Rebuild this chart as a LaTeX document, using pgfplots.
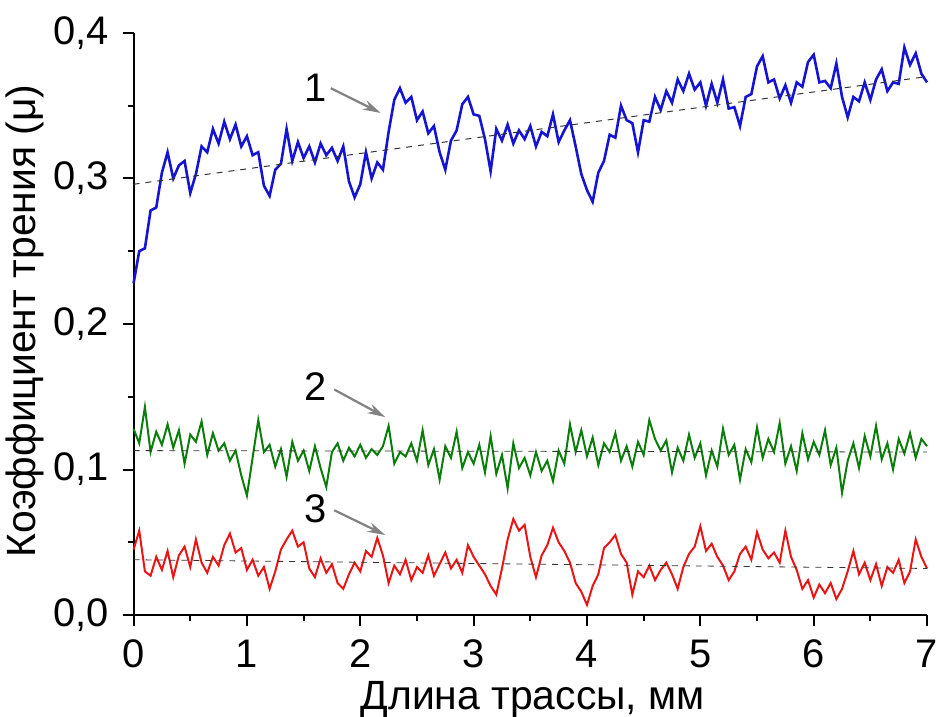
\documentclass[border=0pt]{standalone}
\usepackage{fontspec}
\setmainfont{Liberation Sans}
\usepackage{pgfplots}
\pgfplotsset{compat=1.18}
\usetikzlibrary{arrows.meta}

\definecolor{c1}{RGB}{20,20,210}
\definecolor{c2}{RGB}{10,125,10}
\definecolor{c3}{RGB}{235,20,20}
\definecolor{arr}{RGB}{130,130,130}

\begin{document}
\fontsize{20}{24}\selectfont
\begin{tikzpicture}
\begin{axis}[
    scale only axis,
    width=398pt, height=292pt,
    xmin=0, xmax=7, ymin=0, ymax=0.4,
    axis x line*=bottom, axis y line*=left,
    axis line style={line width=1pt},
    every tick/.style={black, line width=1pt},
    tick align=outside,
    major tick length=5.5pt, minor tick length=3pt,
    xtick={0,1,...,7}, ytick={0,0.1,0.2,0.3,0.4},
    minor x tick num=1, minor y tick num=1,
    /pgf/number format/assume math mode=true,
    yticklabel style={/pgf/number format/.cd, fixed, fixed zerofill, precision=1, use comma},
    xlabel={Длина трассы, мм},
    ylabel={Коэффициент трения (μ)},
    xlabel style={at={(axis description cs:0.503,-0.145)}, anchor=center, font=\fontsize{20.5}{24}\selectfont},
    ylabel style={at={(axis description cs:-0.137,0.505)}, anchor=center, font=\fontsize{20.5}{24}\selectfont},
    clip=false,
]
\coordinate (sw) at (rel axis cs:0,0);
\coordinate (ne) at (rel axis cs:1,1);

% curve 1
\addplot[c1, line width=1.3pt] coordinates {
(0.00,0.228) (0.05,0.250) (0.10,0.252) (0.15,0.278) (0.20,0.280) (0.25,0.304) (0.30,0.318) (0.35,0.300)
(0.40,0.309) (0.45,0.312) (0.50,0.290) (0.55,0.303) (0.60,0.322) (0.65,0.318) (0.70,0.334) (0.75,0.324)
(0.80,0.339) (0.85,0.327) (0.90,0.337) (0.95,0.322) (1.00,0.329) (1.05,0.316) (1.10,0.318) (1.15,0.295)
(1.20,0.288) (1.25,0.306) (1.30,0.310) (1.35,0.334) (1.40,0.312) (1.45,0.325) (1.50,0.314) (1.55,0.322)
(1.60,0.311) (1.65,0.324) (1.70,0.316) (1.75,0.321) (1.80,0.312) (1.85,0.322) (1.90,0.298) (1.95,0.287)
(2.00,0.296) (2.05,0.318) (2.10,0.300) (2.15,0.311) (2.20,0.306) (2.25,0.332) (2.30,0.354) (2.35,0.362)
(2.40,0.352) (2.45,0.356) (2.50,0.340) (2.55,0.346) (2.60,0.331) (2.65,0.336) (2.70,0.318) (2.75,0.306)
(2.80,0.326) (2.85,0.333) (2.90,0.351) (2.95,0.356) (3.00,0.344) (3.05,0.343) (3.10,0.327) (3.15,0.305)
(3.20,0.334) (3.25,0.326) (3.30,0.337) (3.35,0.324) (3.40,0.333) (3.45,0.327) (3.50,0.336) (3.55,0.322)
(3.60,0.332) (3.65,0.329) (3.70,0.344) (3.75,0.325) (3.80,0.333) (3.85,0.340) (3.90,0.322) (3.95,0.303)
(4.00,0.292) (4.05,0.284) (4.10,0.304) (4.15,0.312) (4.20,0.330) (4.25,0.328) (4.30,0.350) (4.35,0.340)
(4.40,0.338) (4.45,0.318) (4.50,0.340) (4.55,0.339) (4.60,0.356) (4.65,0.347) (4.70,0.360) (4.75,0.352)
(4.80,0.368) (4.85,0.360) (4.90,0.372) (4.95,0.361) (5.00,0.366) (5.05,0.350) (5.10,0.365) (5.15,0.352)
(5.20,0.368) (5.25,0.348) (5.30,0.349) (5.35,0.336) (5.40,0.356) (5.45,0.358) (5.50,0.377) (5.55,0.384)
(5.60,0.366) (5.65,0.368) (5.70,0.355) (5.75,0.364) (5.80,0.352) (5.85,0.366) (5.90,0.363) (5.95,0.380)
(6.00,0.385) (6.05,0.366) (6.10,0.367) (6.15,0.362) (6.20,0.379) (6.25,0.356) (6.30,0.342) (6.35,0.356)
(6.40,0.353) (6.45,0.366) (6.50,0.354) (6.55,0.368) (6.60,0.375) (6.65,0.360) (6.70,0.366) (6.75,0.365)
(6.80,0.390) (6.85,0.378) (6.90,0.386) (6.95,0.372) (7.00,0.366)
};

% curve 2
\addplot[c2, line width=1pt] coordinates {
(0.00,0.128) (0.05,0.118) (0.10,0.143) (0.15,0.112) (0.20,0.126) (0.25,0.117) (0.30,0.131) (0.35,0.115)
(0.40,0.127) (0.45,0.104) (0.50,0.124) (0.55,0.119) (0.60,0.133) (0.65,0.110) (0.70,0.125) (0.75,0.113)
(0.80,0.118) (0.85,0.106) (0.90,0.113) (0.95,0.096) (1.00,0.082) (1.05,0.108) (1.10,0.134) (1.15,0.112)
(1.20,0.117) (1.25,0.102) (1.30,0.114) (1.35,0.095) (1.40,0.119) (1.45,0.106) (1.50,0.113) (1.55,0.099)
(1.60,0.116) (1.65,0.101) (1.70,0.088) (1.75,0.112) (1.80,0.118) (1.85,0.106) (1.90,0.115) (1.95,0.109)
(2.00,0.117) (2.05,0.108) (2.10,0.114) (2.15,0.110) (2.20,0.116) (2.25,0.130) (2.30,0.104) (2.35,0.112)
(2.40,0.109) (2.45,0.118) (2.50,0.106) (2.55,0.127) (2.60,0.103) (2.65,0.114) (2.70,0.093) (2.75,0.116)
(2.80,0.108) (2.85,0.126) (2.90,0.101) (2.95,0.112) (3.00,0.104) (3.05,0.117) (3.10,0.098) (3.15,0.123)
(3.20,0.097) (3.25,0.110) (3.30,0.087) (3.35,0.118) (3.40,0.101) (3.45,0.108) (3.50,0.096) (3.55,0.112)
(3.60,0.099) (3.65,0.106) (3.70,0.092) (3.75,0.113) (3.80,0.104) (3.85,0.131) (3.90,0.112) (3.95,0.127)
(4.00,0.109) (4.05,0.122) (4.10,0.103) (4.15,0.118) (4.20,0.112) (4.25,0.125) (4.30,0.106) (4.35,0.116)
(4.40,0.102) (4.45,0.119) (4.50,0.110) (4.55,0.134) (4.60,0.121) (4.65,0.113) (4.70,0.120) (4.75,0.098)
(4.80,0.115) (4.85,0.106) (4.90,0.124) (4.95,0.108) (5.00,0.118) (5.05,0.096) (5.10,0.113) (5.15,0.102)
(5.20,0.128) (5.25,0.110) (5.30,0.117) (5.35,0.093) (5.40,0.114) (5.45,0.105) (5.50,0.129) (5.55,0.108)
(5.60,0.121) (5.65,0.112) (5.70,0.132) (5.75,0.104) (5.80,0.116) (5.85,0.099) (5.90,0.125) (5.95,0.107)
(6.00,0.119) (6.05,0.110) (6.10,0.127) (6.15,0.103) (6.20,0.115) (6.25,0.084) (6.30,0.106) (6.35,0.118)
(6.40,0.101) (6.45,0.123) (6.50,0.109) (6.55,0.130) (6.60,0.107) (6.65,0.118) (6.70,0.100) (6.75,0.121)
(6.80,0.111) (6.85,0.125) (6.90,0.108) (6.95,0.121) (7.00,0.116)
};

% curve 3
\addplot[c3, line width=1pt] coordinates {
(0.00,0.045) (0.05,0.058) (0.10,0.030) (0.15,0.027) (0.20,0.040) (0.25,0.031) (0.30,0.044) (0.35,0.026)
(0.40,0.041) (0.45,0.047) (0.50,0.033) (0.55,0.052) (0.60,0.036) (0.65,0.029) (0.70,0.040) (0.75,0.034)
(0.80,0.048) (0.85,0.056) (0.90,0.043) (0.95,0.046) (1.00,0.031) (1.05,0.038) (1.10,0.027) (1.15,0.033)
(1.20,0.018) (1.25,0.030) (1.30,0.045) (1.35,0.052) (1.40,0.058) (1.45,0.047) (1.50,0.050) (1.55,0.032)
(1.60,0.026) (1.65,0.039) (1.70,0.029) (1.75,0.035) (1.80,0.022) (1.85,0.018) (1.90,0.028) (1.95,0.036)
(2.00,0.030) (2.05,0.044) (2.10,0.040) (2.15,0.053) (2.20,0.041) (2.25,0.022) (2.30,0.034) (2.35,0.028)
(2.40,0.038) (2.45,0.024) (2.50,0.033) (2.55,0.029) (2.60,0.041) (2.65,0.027) (2.70,0.035) (2.75,0.043)
(2.80,0.032) (2.85,0.038) (2.90,0.029) (2.95,0.048) (3.00,0.040) (3.05,0.034) (3.10,0.028) (3.15,0.020)
(3.20,0.014) (3.25,0.032) (3.30,0.052) (3.35,0.066) (3.40,0.058) (3.45,0.062) (3.50,0.040) (3.55,0.026)
(3.60,0.041) (3.65,0.048) (3.70,0.060) (3.75,0.050) (3.80,0.044) (3.85,0.036) (3.90,0.022) (3.95,0.016)
(4.00,0.007) (4.05,0.020) (4.10,0.028) (4.15,0.046) (4.20,0.050) (4.25,0.055) (4.30,0.042) (4.35,0.036)
(4.40,0.014) (4.45,0.030) (4.50,0.026) (4.55,0.034) (4.60,0.024) (4.65,0.031) (4.70,0.036) (4.75,0.028)
(4.80,0.018) (4.85,0.033) (4.90,0.042) (4.95,0.047) (5.00,0.061) (5.05,0.044) (5.10,0.049) (5.15,0.040)
(5.20,0.034) (5.25,0.024) (5.30,0.030) (5.35,0.042) (5.40,0.047) (5.45,0.038) (5.50,0.057) (5.55,0.045)
(5.60,0.039) (5.65,0.043) (5.70,0.036) (5.75,0.058) (5.80,0.040) (5.85,0.031) (5.90,0.018) (5.95,0.024)
(6.00,0.012) (6.05,0.021) (6.10,0.015) (6.15,0.022) (6.20,0.011) (6.25,0.018) (6.30,0.030) (6.35,0.044)
(6.40,0.028) (6.45,0.036) (6.50,0.024) (6.55,0.035) (6.60,0.020) (6.65,0.033) (6.70,0.029) (6.75,0.038)
(6.80,0.022) (6.85,0.030) (6.90,0.052) (6.95,0.040) (7.00,0.032)
};

% linear fits
\addplot[gray!40!black, line width=0.5pt, dash pattern=on 3pt off 3pt] coordinates {(0,0.296) (7,0.370)};
\addplot[gray!40!black, line width=0.4pt, dash pattern=on 3pt off 3pt] coordinates {(0,0.113) (7,0.112)};
\addplot[gray!40!black, line width=0.4pt, dash pattern=on 3pt off 3pt] coordinates {(0,0.038) (7,0.032)};

% curve labels
\node at (axis cs:1.61,0.362) {1};
\node at (axis cs:1.61,0.157) {2};
\node at (axis cs:1.61,0.073) {3};
\draw[arr, line width=1.1pt, -{Stealth[length=9pt,width=5pt]}] (axis cs:1.74,0.362) -- (axis cs:2.18,0.345);
\draw[arr, line width=1.1pt, -{Stealth[length=9pt,width=5pt]}] (axis cs:1.77,0.155) -- (axis cs:2.22,0.136);
\draw[arr, line width=1.1pt, -{Stealth[length=9pt,width=5pt]}] (axis cs:1.77,0.072) -- (axis cs:2.22,0.055);
\end{axis}
\pgfresetboundingbox
\path ([shift={(-67pt,-51pt)}]sw) rectangle ([shift={(6pt,16.5pt)}]ne);
\end{tikzpicture}
\end{document}
